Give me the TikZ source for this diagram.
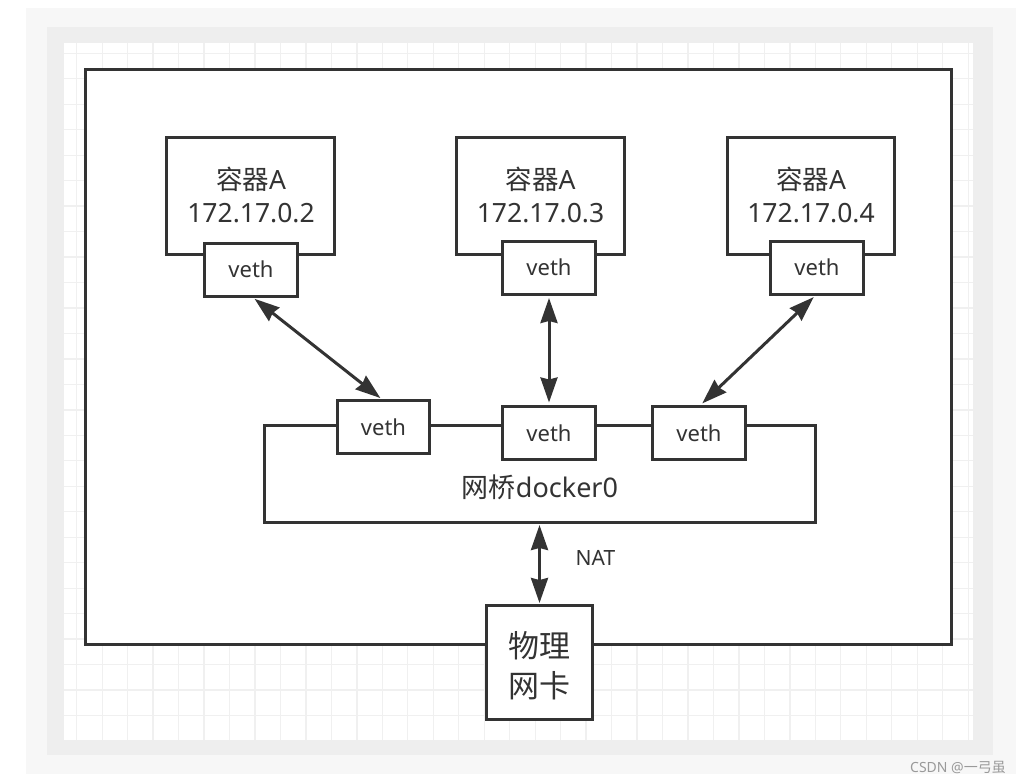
\documentclass[tikz,border=0pt]{standalone}
\usepackage{fontspec}
\setmainfont{Noto Sans}
\newfontfamily\cjk{Noto Sans CJK SC}
\usetikzlibrary{arrows.meta}
\definecolor{dk}{HTML}{333333}
\definecolor{bgout}{HTML}{F7F7F7}
\definecolor{bgin}{HTML}{EEEEEE}
\definecolor{gridc}{HTML}{F0F0F0}
\definecolor{wm}{HTML}{9A9A9A}
\begin{document}
\begin{tikzpicture}[x=1pt,y=-1pt,
  box/.style={draw=dk, line width=3pt, fill=white, rectangle, inner sep=0pt, outer sep=0pt},
  cbox/.style={box, minimum width=168pt, minimum height=117pt},
  vbox/.style={box, minimum width=93pt, minimum height=53pt, text=dk, font=\fontsize{22}{26}\selectfont},
  txt/.style={inner sep=0pt, text=dk, anchor=base},
  ctxt/.style={txt, font=\fontsize{26.5}{30}\selectfont},
  biarrow/.style={draw=dk, line width=3pt,
    {Stealth[length=25pt,width=17pt,inset=2pt]}-{Stealth[length=25pt,width=17pt,inset=2pt]}}
]
\useasboundingbox (0,0) rectangle (1025,784);
% backgrounds
\fill[bgout] (26,8) rectangle (1016,774);
\fill[bgin] (47,27) rectangle (993,755);
\fill[white] (64,43) rectangle (973,740);
\foreach \i in {0,...,35} \draw[gridc, line width=1.3pt] (76.7+25.47*\i,43) -- (76.7+25.47*\i,740);
\foreach \j in {0,...,26} \draw[gridc, line width=1.3pt] (64,53.3+25.47*\j) -- (973,53.3+25.47*\j);

% main host box
\node[box, minimum width=866pt, minimum height=575pt] (host) at (518.5,357) {};

% containers
\node[cbox] (c1) at (250.5,196) {};
\node[cbox] (c2) at (540.5,196) {};
\node[cbox, minimum width=167pt] (c3) at (811,196) {};
\node[ctxt] (c1a) at (251,189.5) {{\cjk 容器}A};
\node[ctxt] (c1b) at (251,222) {172.17.0.2};
\node[ctxt] (c2a) at (540.5,189.5) {{\cjk 容器}A};
\node[ctxt] (c2b) at (540.5,222) {172.17.0.3};
\node[ctxt] (c3a) at (811,189.5) {{\cjk 容器}A};
\node[ctxt] (c3b) at (811,222) {172.17.0.4};
\node[vbox] (c1v) at (251,269.5) {veth};
\node[vbox] (c2v) at (549,267.5) {veth};
\node[vbox] (c3v) at (817,267.5) {veth};

% bridge
\node[box, minimum width=551pt, minimum height=97pt] (br) at (539.5,473.5) {};
\node[vbox, minimum width=92pt] (b1) at (383.5,427) {veth};
\node[vbox] (b2) at (549,433) {veth};
\node[vbox] (b3) at (699,433) {veth};
\node[txt, font=\fontsize{27}{30}\selectfont] (brt) at (540,497) {{\cjk 网桥}docker0};

% physical NIC
\node[box, minimum width=106pt, minimum height=114pt] (nic) at (539.5,662.5) {};
\node[txt, font=\fontsize{31}{36}\selectfont\cjk] (nic1) at (539.5,657.5) {物理};
\node[txt, font=\fontsize{31}{36}\selectfont\cjk] (nic2) at (539.5,697) {网卡};

% connectors
\draw[biarrow, shorten <=4.5pt, shorten >=4pt] (c1v.south) -- (b1.north);
\draw[biarrow, shorten <=4pt, shorten >=4pt] (c2v.south) -- (b2.north);
\draw[biarrow, shorten <=4.5pt, shorten >=4.5pt] (c3v.south) -- (b3.north);
\draw[biarrow, shorten <=3pt, shorten >=2.5pt] (br.south) -- (nic.north);
\node[txt, font=\fontsize{21}{24}\selectfont] (nat) at (595.5,565) {NAT};

% watermark
\node[inner sep=0pt, anchor=base west, text=wm, font=\fontsize{14}{16}\selectfont] (wmk) at (910,772.5) {CSDN @{\cjk 一弓虽}};
\end{tikzpicture}
\end{document}
